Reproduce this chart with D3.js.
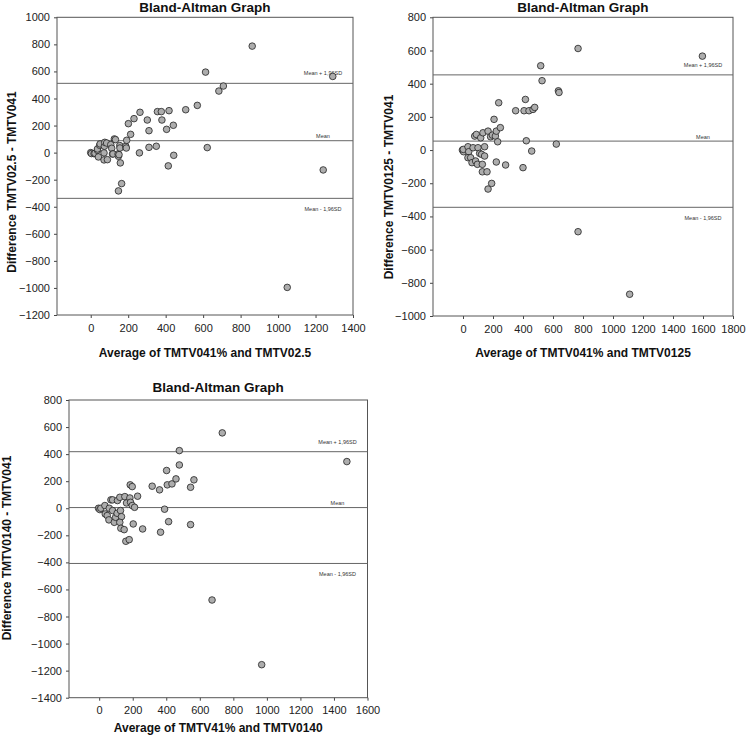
<!DOCTYPE html>
<html>
<head>
<meta charset="utf-8">
<script src="https://cdn.jsdelivr.net/npm/d3@7"></script>
<style>
  body { margin: 0; background: #fff; }
  svg { display: block; font-family: Arial, "Liberation Sans", sans-serif; }
</style>
</head>
<body>
<svg width="746" height="743"></svg>
<script>
// [average, difference]
const pointsA = [
  [0,0],[4,-7],[18,-8],[23,-5],[36,17],[36,27],[41,-32],[48,54],[50,64],[71,-2],
  [71,-54],[73,47],[75,76],[85,71],[89,-52],[107,59],[112,32],[116,-10],[119,-10],[126,101],
  [132,96],[146,-10],[148,-27],[151,-15],[155,52],[156,34],[158,-76],[165,-229],[148,-283],[187,47],
  [190,34],[192,91],[201,214],[213,135],[231,251],[260,-2],[263,298],[302,241],[311,162],[311,39],
  [350,47],[356,303],[377,303],[380,241],[405,172],[414,-98],[418,310],[441,202],[443,-20],[507,317],
  [569,349],[613,595],[622,37],[684,455],[708,492],[862,787],[1049,-996],[1241,-128],[1292,563]
];
const pointsB = [
  [-4,0],[4,-10],[2,4],[33,20],[38,-10],[33,-46],[51,-46],[60,-76],[67,14],[78,84],
  [89,94],[84,-66],[96,-86],[100,14],[111,-20],[118,74],[124,-26],[129,-86],[133,104],[129,-131],
  [144,20],[144,-36],[160,-131],[167,114],[167,-235],[184,80],[191,-201],[196,90],[207,185],[216,84],
  [222,114],[222,-72],[231,50],[238,285],[249,135],[284,-90],[351,237],[400,-106],[407,237],[416,305],
  [422,56],[440,237],[458,-6],[467,245],[478,257],[518,508],[527,418],[622,36],[636,357],[640,347],
  [767,612],[767,-492],[1111,-869],[1596,566]
];
const pointsC = [
  [-4,0],[4,-10],[10,0],[34,20],[36,-42],[48,-54],[60,0],[58,-86],[70,62],[80,62],
  [80,-17],[90,-104],[98,-67],[107,-37],[109,57],[123,81],[127,-17],[133,-62],[123,-104],[129,-148],
  [149,-158],[153,86],[163,39],[159,-244],[179,-232],[183,76],[185,173],[197,160],[187,44],[197,20],
  [203,-116],[211,7],[229,89],[259,-153],[316,163],[360,136],[366,-177],[390,-7],[402,279],[406,173],
  [414,-99],[434,180],[458,217],[478,426],[478,320],[545,155],[545,-121],[565,210],[734,557],[673,-678],
  [969,-1156],[1477,345]
];

// mean + 1.96SD, mean, mean - 1.96SD
const refsA = [512, 88, -338];
const refsB = [453, 54, -345];
const refsC = [418, 5, -408];
const refLabels = ["Mean + 1,96SD", "Mean", "Mean - 1,96SD"];

const xTicksA = [0, 200, 400, 600, 800, 1000, 1200, 1400];
const yTicksA = [-1200, -1000, -800, -600, -400, -200, 0, 200, 400, 600, 800, 1000];
const xTicksB = [0, 200, 400, 600, 800, 1000, 1200, 1400, 1600, 1800];
const yTicksB = [-1000, -800, -600, -400, -200, 0, 200, 400, 600, 800];
const xTicksC = [0, 200, 400, 600, 800, 1000, 1200, 1400, 1600];
const yTicksC = [-1400, -1200, -1000, -800, -600, -400, -200, 0, 200, 400, 600, 800];

const svg = d3.select("svg");

const panels = [
  { points: pointsA, refs: refsA, xTicks: xTicksA, yTicks: yTicksA,
    xDomain: [-180, 1400], yDomain: [-1200, 1000],
    left: 57, right: 353, top: 17.3, bottom: 315,
    titleY: 12, xLabelY: 357, yLabelX: 16, yLabelY: 182,
    xLabel: "Average of TMTV041% and TMTV02.5",
    yLabel: "Difference TMTV02.5 - TMTV041" },
  { points: pointsB, refs: refsB, xTicks: xTicksB, yTicks: yTicksB,
    xDomain: [-200, 1800], yDomain: [-1000, 800],
    left: 433, right: 733, top: 17.3, bottom: 316,
    titleY: 12, xLabelY: 357, yLabelX: 393, yLabelY: 187,
    xLabel: "Average of TMTV041% and TMTV0125",
    yLabel: "Difference TMTV0125 - TMTV041" },
  { points: pointsC, refs: refsC, xTicks: xTicksC, yTicks: yTicksC,
    xDomain: [-180, 1600], yDomain: [-1400, 800],
    left: 69, right: 367.5, top: 400, bottom: 697.7,
    titleY: 392, xLabelY: 732, yLabelX: 11, yLabelY: 548,
    xLabel: "Average of TMTV41% and TMTV0140",
    yLabel: "Difference TMTV0140 - TMTV041" }
];

panels.forEach(p => drawPanel(p));

function drawPanel(p) {
  const g = svg.append("g");

  const x = d3.scaleLinear().domain(p.xDomain).range([p.left, p.right]);
  const y = d3.scaleLinear().domain(p.yDomain).range([p.bottom, p.top]);

  // title
  g.append("text")
    .attr("x", (p.left + p.right) / 2)
    .attr("y", p.titleY)
    .attr("text-anchor", "middle")
    .attr("font-size", "13.5px")
    .attr("font-weight", "bold")
    .attr("fill", "#111")
    .text("Bland-Altman Graph");

  // axes
  const yAxis = g.append("g")
    .attr("transform", `translate(${p.left},0)`)
    .call(d3.axisLeft(y).tickValues(p.yTicks).tickFormat(d3.format("d"))
      .tickSize(3).tickSizeOuter(0).tickPadding(4));

  const xAxis = g.append("g")
    .attr("transform", `translate(0,${p.bottom})`)
    .call(d3.axisBottom(x).tickValues(p.xTicks).tickFormat(d3.format("d"))
      .tickSize(3).tickSizeOuter(0).tickPadding(6));

  [xAxis, yAxis].forEach(a => {
    a.select(".domain").remove();
    a.selectAll("line").attr("stroke", "#444");
    a.selectAll("text")
      .attr("font-size", "11px")
      .attr("fill", "#222")
      .style("font-family", "Arial, 'Liberation Sans', sans-serif");
  });

  // frame
  g.append("rect")
    .attr("x", p.left)
    .attr("y", p.top)
    .attr("width", p.right - p.left)
    .attr("height", p.bottom - p.top)
    .attr("fill", "none")
    .attr("stroke", "#555")
    .attr("stroke-width", 1);

  // mean and limits of agreement
  g.selectAll(".ref")
    .data(p.refs)
    .enter()
    .append("line")
    .attr("class", "ref")
    .attr("x1", p.left)
    .attr("x2", p.right)
    .attr("y1", d => y(d))
    .attr("y2", d => y(d))
    .attr("stroke", "#666")
    .attr("stroke-width", 1);

  const labelOffsets = [-8, -2.5, 13];
  g.selectAll(".ref-label")
    .data(p.refs)
    .enter()
    .append("text")
    .attr("class", "ref-label")
    .attr("x", p.right - 30)
    .attr("y", (d, i) => y(d) + labelOffsets[i])
    .attr("text-anchor", "middle")
    .attr("font-size", "5.5px")
    .attr("fill", "#333")
    .text((d, i) => refLabels[i]);

  // points
  g.selectAll(".pt")
    .data(p.points)
    .enter()
    .append("circle")
    .attr("class", "pt")
    .attr("cx", d => x(d[0]))
    .attr("cy", d => y(d[1]))
    .attr("r", 3.3)
    .attr("fill", "#adadad")
    .attr("stroke", "#222")
    .attr("stroke-width", 0.8);

  // axis titles
  g.append("text")
    .attr("x", (p.left + p.right) / 2)
    .attr("y", p.xLabelY)
    .attr("text-anchor", "middle")
    .attr("font-size", "12px")
    .attr("font-weight", "bold")
    .attr("fill", "#111")
    .text(p.xLabel);

  g.append("text")
    .attr("transform", `translate(${p.yLabelX},${p.yLabelY}) rotate(-90)`)
    .attr("text-anchor", "middle")
    .attr("font-size", "12px")
    .attr("font-weight", "bold")
    .attr("fill", "#111")
    .text(p.yLabel);
}
</script>
</body>
</html>
